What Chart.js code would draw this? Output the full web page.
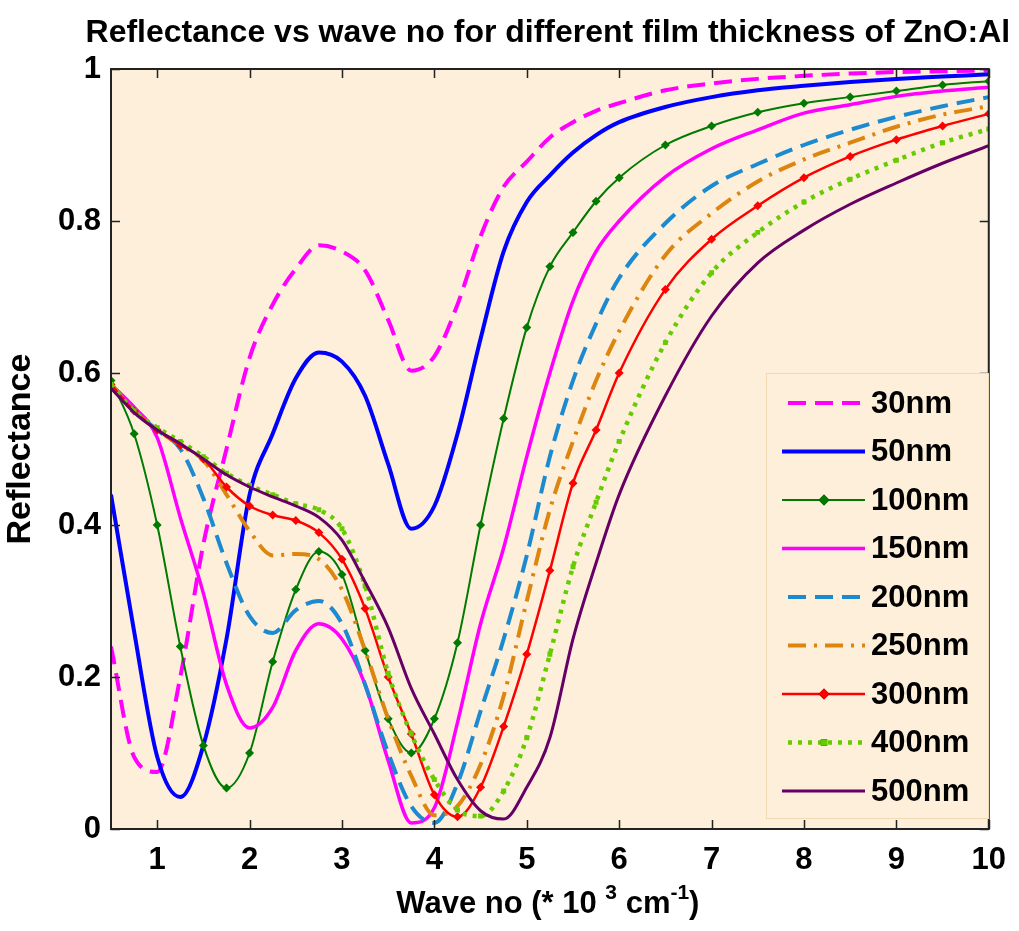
<!DOCTYPE html>
<html>
<head>
<meta charset="utf-8">
<script src="https://cdn.jsdelivr.net/npm/chart.js@4.4.0/dist/chart.umd.min.js"></script>
<style>
  html, body { margin: 0; padding: 0; background: #fff; }
  #wrap { width: 1019px; height: 931px; }
</style>
</head>
<body>
<div id="wrap"><canvas id="refl" width="1019" height="931"></canvas></div>
<script>
// wave number (* 10^3 cm^-1)
const waveNo = [0.5, 0.75, 1, 1.25, 1.5, 1.75, 2, 2.25, 2.5, 2.75, 3, 3.25, 3.5, 3.75, 4, 4.25, 4.5, 4.75, 5, 5.25, 5.5, 5.75, 6,
  6.5, 7, 7.5, 8, 8.5, 9, 9.5, 10];

const thickness = ['30nm', '50nm', '100nm', '150nm', '200nm', '250nm', '300nm', '400nm', '500nm'];

const r30  = [0.24, 0.095, 0.075, 0.20, 0.375, 0.50, 0.62, 0.69, 0.737, 0.768, 0.76, 0.735, 0.67, 0.603, 0.622, 0.69, 0.78, 0.845, 0.878, 0.91, 0.93, 0.945, 0.955,
  0.972, 0.981, 0.987, 0.991, 0.994, 0.996, 0.997, 0.998];
const r50  = [0.44, 0.26, 0.095, 0.042, 0.11, 0.25, 0.44, 0.52, 0.593, 0.627, 0.615, 0.57, 0.48, 0.395, 0.425, 0.52, 0.645, 0.76, 0.825, 0.86, 0.89, 0.913, 0.93,
  0.95, 0.963, 0.972, 0.978, 0.983, 0.987, 0.99, 0.993];
const r100 = [0.59, 0.52, 0.40, 0.24, 0.11, 0.054, 0.10, 0.22, 0.315, 0.365, 0.335, 0.235, 0.145, 0.10, 0.145, 0.245, 0.40, 0.54, 0.66, 0.74, 0.785, 0.826, 0.857,
  0.90, 0.925, 0.943, 0.955, 0.963, 0.971, 0.979, 0.984];
const r150 = [0.585, 0.555, 0.515, 0.41, 0.31, 0.19, 0.133, 0.16, 0.235, 0.27, 0.25, 0.19, 0.09, 0.008, 0.028, 0.14, 0.27, 0.37, 0.49, 0.60, 0.695, 0.76, 0.80,
  0.858, 0.895, 0.92, 0.942, 0.953, 0.964, 0.971, 0.976];
const r200 = [0.585, 0.55, 0.525, 0.50, 0.435, 0.35, 0.28, 0.258, 0.288, 0.30, 0.27, 0.19, 0.10, 0.03, 0.008, 0.06, 0.155, 0.25, 0.36, 0.49, 0.59, 0.665, 0.725,
  0.797, 0.846, 0.875, 0.90, 0.92, 0.937, 0.951, 0.963];
const r250 = [0.585, 0.55, 0.525, 0.505, 0.485, 0.44, 0.392, 0.36, 0.362, 0.355, 0.315, 0.235, 0.145, 0.07, 0.018, 0.03, 0.085, 0.175, 0.30, 0.42, 0.51, 0.59, 0.655,
  0.755, 0.81, 0.852, 0.881, 0.903, 0.924, 0.94, 0.951];
const r300 = [0.585, 0.55, 0.525, 0.505, 0.487, 0.45, 0.425, 0.413, 0.406, 0.39, 0.355, 0.29, 0.20, 0.125, 0.045, 0.016, 0.055, 0.135, 0.23, 0.34, 0.455, 0.525, 0.60,
  0.71, 0.776, 0.82, 0.857, 0.885, 0.907, 0.925, 0.941];
const r400 = [0.585, 0.55, 0.528, 0.51, 0.49, 0.468, 0.452, 0.44, 0.428, 0.42, 0.395, 0.32, 0.205, 0.125, 0.065, 0.025, 0.017, 0.05, 0.12, 0.23, 0.345, 0.43, 0.51,
  0.64, 0.732, 0.785, 0.825, 0.855, 0.88, 0.903, 0.921];
const r500 = [0.58, 0.548, 0.525, 0.507, 0.487, 0.466, 0.45, 0.437, 0.425, 0.41, 0.38, 0.325, 0.265, 0.185, 0.125, 0.065, 0.024, 0.013, 0.055, 0.12, 0.25, 0.35, 0.44,
  0.57, 0.675, 0.745, 0.788, 0.822, 0.85, 0.876, 0.899];

const xTicks = [1, 2, 3, 4, 5, 6, 7, 8, 9, 10];
const yTicks = [0, 0.2, 0.4, 0.6, 0.8, 1];

const FONT = "'Liberation Sans', Arial, sans-serif";
const PLOT_BG = '#fdefd9';

const pts = vals => vals.map((v, i) => ({ x: waveNo[i], y: v }));

// series styling, in the same order as thickness
const styles = [
  { color: '#ff00ff', width: 4, dash: [18, 9] },
  { color: '#0000ff', width: 4, dash: [] },
  { color: '#007a00', width: 2, dash: [], marker: 'rectRot', radius: 4.5 },
  { color: '#ff00ff', width: 3.5, dash: [] },
  { color: '#1c8ad0', width: 4, dash: [18, 9] },
  { color: '#dc850f', width: 4, dash: [18, 8, 3, 8] },
  { color: '#ff0000', width: 2.5, dash: [], marker: 'rectRot', radius: 4.5 },
  { color: '#66cc00', width: 4.5, dash: [4, 6], marker: 'rect', radius: 3.5 },
  { color: '#660066', width: 3, dash: [] }
];
const series = [r30, r50, r100, r150, r200, r250, r300, r400, r500];

const datasets = series.map((vals, i) => {
  const s = styles[i];
  return {
    label: thickness[i],
    data: pts(vals),
    borderColor: s.color,
    backgroundColor: s.color,
    borderWidth: s.width,
    borderDash: s.dash,
    pointStyle: s.marker || 'circle',
    pointRadius: s.marker ? s.radius : 0,
    pointBorderWidth: 0,
    pointBackgroundColor: s.color,
    cubicInterpolationMode: 'monotone',
    fill: false,
    order: series.length - i
  };
});

const plotBackground = {
  id: 'plotBackground',
  beforeDraw(chart) {
    const { ctx, chartArea: a } = chart;
    ctx.save();
    ctx.fillStyle = PLOT_BG;
    ctx.fillRect(a.left, a.top, a.right - a.left, a.bottom - a.top);
    ctx.restore();
  }
};

// box round the axes with inward ticks on all four sides
const frameTicks = {
  id: 'frameTicks',
  afterDatasetsDraw(chart) {
    const { ctx, chartArea: a, scales } = chart;
    const len = 9;
    ctx.save();
    ctx.strokeStyle = '#222';
    ctx.lineWidth = 1.5;
    ctx.beginPath();
    xTicks.forEach(v => {
      const px = Math.round(scales.x.getPixelForValue(v)) + 0.5;
      ctx.moveTo(px, a.bottom); ctx.lineTo(px, a.bottom - len);
      ctx.moveTo(px, a.top); ctx.lineTo(px, a.top + len);
    });
    yTicks.forEach(v => {
      const py = Math.round(scales.y.getPixelForValue(v)) + 0.5;
      ctx.moveTo(a.left, py); ctx.lineTo(a.left + len, py);
      ctx.moveTo(a.right, py); ctx.lineTo(a.right - len, py);
    });
    ctx.stroke();
    ctx.lineWidth = 2;
    ctx.strokeRect(a.left, a.top, a.right - a.left, a.bottom - a.top);
    ctx.restore();
  }
};

const legendBox = {
  id: 'legendBox',
  afterDraw(chart) {
    const ctx = chart.ctx;
    const box = { x: 766, y: 373, w: 222, h: 445 };
    ctx.save();
    ctx.fillStyle = PLOT_BG;
    ctx.fillRect(box.x, box.y, box.w, box.h);
    ctx.strokeStyle = '#f3d9b4';
    ctx.lineWidth = 1;
    ctx.strokeRect(box.x + 0.5, box.y + 0.5, box.w, box.h);
    chart.data.datasets.forEach((ds, i) => {
      const cy = 403 + i * 48.5;
      ctx.strokeStyle = ds.borderColor;
      ctx.lineWidth = ds.borderWidth;
      ctx.setLineDash(ds.borderDash);
      ctx.beginPath();
      const x0 = ds.borderDash.length ? 788 : 782;
      ctx.moveTo(x0, cy);
      ctx.lineTo(865, cy);
      ctx.stroke();
      ctx.setLineDash([]);
      if (ds.pointRadius > 0) {
        Chart.helpers.drawPoint(ctx, {
          pointStyle: ds.pointStyle, radius: ds.pointRadius + 1, rotation: 0, borderWidth: 0
        }, 824, cy);
        ctx.fillStyle = ds.borderColor;
        ctx.fill();
      }
      ctx.fillStyle = '#000';
      ctx.font = `bold 31px ${FONT}`;
      ctx.textAlign = 'left';
      ctx.textBaseline = 'middle';
      ctx.fillText(ds.label, 871, cy + 1);
    });
    ctx.restore();
  }
};

// chart title and x-axis title (with superscripts)
const titles = {
  id: 'titles',
  afterDraw(chart) {
    const { ctx, chartArea: a } = chart;
    const cx = (a.left + a.right) / 2;
    ctx.save();
    ctx.fillStyle = '#000';
    ctx.textBaseline = 'alphabetic';
    ctx.textAlign = 'center';
    ctx.font = `bold 32px ${FONT}`;
    ctx.fillText('Reflectance vs wave no for different film thickness of ZnO:Al', cx - 2, 42);

    const big = `bold 31px ${FONT}`, small = `bold 21px ${FONT}`;
    const parts = [
      { t: 'Wave no (* 10 ', f: big, dy: 0 },
      { t: '3', f: small, dy: -14 },
      { t: ' cm', f: big, dy: 0 },
      { t: '-1', f: small, dy: -14 },
      { t: ')', f: big, dy: 0 }
    ];
    let total = 0;
    parts.forEach(p => { ctx.font = p.f; p.w = ctx.measureText(p.t).width; total += p.w; });
    let x = cx - total / 2 - 2;
    ctx.textAlign = 'left';
    parts.forEach(p => {
      ctx.font = p.f;
      ctx.fillText(p.t, x, 913 + p.dy);
      x += p.w;
    });
    ctx.restore();
  }
};

new Chart(document.getElementById('refl'), {
  type: 'line',
  data: { datasets },
  options: {
    responsive: false,
    animation: false,
    events: [],
    layout: { padding: { top: 69, right: 23, left: 0, bottom: 0 } },
    scales: {
      x: {
        type: 'linear',
        min: 0.5,
        max: 10,
        afterBuildTicks: s => { s.ticks = xTicks.map(v => ({ value: v })); },
        afterFit: s => { s.height = 102; },
        grid: { display: false, drawTicks: false },
        border: { display: false },
        ticks: {
          color: '#000',
          padding: 13,
          maxRotation: 0,
          font: { family: FONT, weight: 'bold', size: 31 },
          callback: v => String(v)
        }
      },
      y: {
        type: 'linear',
        min: 0,
        max: 1,
        afterBuildTicks: s => { s.ticks = yTicks.map(v => ({ value: v })); },
        afterFit: s => { s.width = 111; },
        grid: { display: false, drawTicks: false },
        border: { display: false },
        title: {
          display: true,
          text: 'Reflectance',
          color: '#000',
          font: { family: FONT, weight: 'bold', size: 34 },
          padding: { top: 0, bottom: 0 }
        },
        ticks: {
          color: '#000',
          padding: 10,
          font: { family: FONT, weight: 'bold', size: 31 },
          callback: v => String(v)
        }
      }
    },
    plugins: {
      legend: { display: false },
      tooltip: { enabled: false },
      title: { display: false }
    }
  },
  plugins: [plotBackground, frameTicks, legendBox, titles]
});
</script>
</body>
</html>
